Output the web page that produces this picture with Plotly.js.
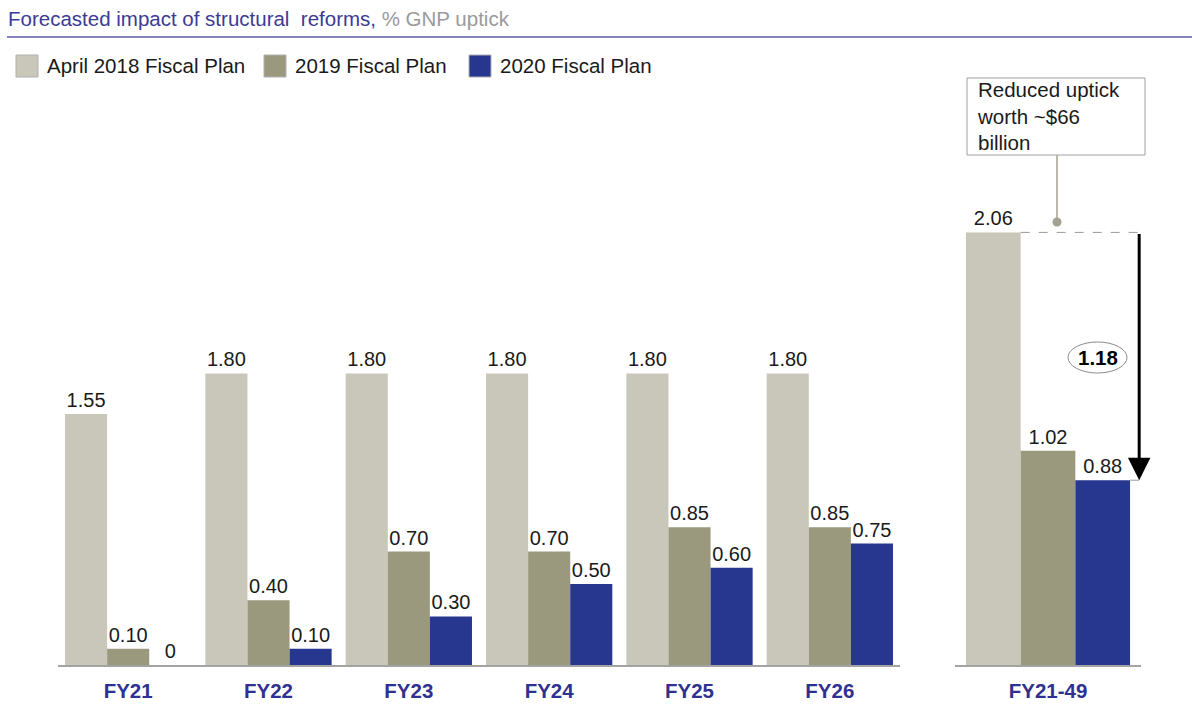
<!DOCTYPE html>
<html>
<head>
<meta charset="utf-8">
<script src="https://cdn.plot.ly/plotly-3.0.1.min.js"></script>
<style>html,body{margin:0;padding:0;background:#fff;}#chart{width:1192px;height:709px;}</style>
</head>
<body>
<div id="chart"></div>
<script>
// ---- data ----
const categories = ['FY21', 'FY22', 'FY23', 'FY24', 'FY25', 'FY26'];
const april2018 = [1.55, 1.80, 1.80, 1.80, 1.80, 1.80];
const plan2019 = [0.10, 0.40, 0.70, 0.70, 0.85, 0.85];
const plan2020 = [0, 0.10, 0.30, 0.50, 0.60, 0.75];
const totalCategory = ['FY21-49'];
const totalApril2018 = [2.06];
const totalPlan2019 = [1.02];
const totalPlan2020 = [0.88];
const seriesNames = ['April 2018 Fiscal Plan', '2019 Fiscal Plan', '2020 Fiscal Plan'];
const colors = ['#c8c7b9', '#9a997e', '#27378f'];

const W = 1192, H = 709;
const px = v => v / W;
const py = v => 1 - v / H;
const fmt = v => v === 0 ? '0' : v.toFixed(2);
const FONT = 'Liberation Sans, Arial, sans-serif';

function bar(xs, ys, i, xa, ya) {
  return {
    type: 'bar', x: xs, y: ys, name: seriesNames[i], xaxis: xa, yaxis: ya,
    marker: {color: colors[i], line: {width: 0}},
    text: ys.map(fmt), textposition: 'outside', constraintext: 'none',
    textfont: {family: FONT, size: 20, color: '#1a1a1a'},
    cliponaxis: false, showlegend: false, hoverinfo: 'skip'
  };
}

const data = [
  bar(categories, april2018, 0, 'x', 'y'),
  bar(categories, plan2019, 1, 'x', 'y'),
  bar(categories, plan2020, 2, 'x', 'y'),
  bar(totalCategory, totalApril2018, 0, 'x2', 'y2'),
  bar(totalCategory, totalPlan2019, 1, 'x2', 'y2'),
  bar(totalCategory, totalPlan2020, 2, 'x2', 'y2')
];

const yBottom = py(665), yTop = py(100);
const axisX = {
  type: 'category', showgrid: false, zeroline: false,
  showline: true, linecolor: '#a3a3a3', linewidth: 2,
  ticks: '', ticklabelstandoff: 6,
  tickfont: {family: FONT, size: 20.5, color: '#2e3192', weight: 'bold'}
};
const axisY = {showgrid: false, zeroline: false, showline: false, showticklabels: false, ticks: '', fixedrange: true};

const shapes = [];
const annotations = [];

// title + rule
annotations.push({
  xref: 'paper', yref: 'paper', x: px(6), y: py(19), xanchor: 'left', yanchor: 'middle', showarrow: false,
  text: '<span style="color:#3b3b96">Forecasted impact of structural  reforms,</span><span style="color:#9a9a9a"> % GNP uptick</span>',
  font: {family: FONT, size: 20.5}
});
shapes.push({type: 'line', xref: 'paper', yref: 'paper', x0: px(7), x1: 1, y0: py(37), y1: py(37), line: {color: '#5a5aa8', width: 1.5}});

// legend (manual, large swatches)
const legendSw = [16, 264, 469];
seriesNames.forEach((n, i) => {
  shapes.push({type: 'rect', xref: 'paper', yref: 'paper', x0: px(legendSw[i]), x1: px(legendSw[i] + 22), y0: py(77), y1: py(55),
    fillcolor: colors[i], line: {color: '#b0b0b0', width: 1}});
  annotations.push({xref: 'paper', yref: 'paper', x: px(legendSw[i] + 29), y: py(66), xanchor: 'left', yanchor: 'middle', showarrow: false,
    text: n, font: {family: FONT, size: 20.5, color: '#1a1a1a'}});
});

// callout box
shapes.push({type: 'rect', xref: 'paper', yref: 'paper', x0: px(967), x1: px(1145), y0: py(155), y1: py(78),
  fillcolor: '#ffffff', line: {color: '#a0a0a0', width: 1}});
annotations.push({xref: 'paper', yref: 'paper', x: px(975), y: py(116.5), xanchor: 'left', yanchor: 'middle', align: 'left', showarrow: false,
  text: 'Reduced uptick<br>worth ~$66<br>billion', font: {family: FONT, size: 20.5, color: '#1a1a1a'}});
shapes.push({type: 'line', xref: 'paper', yref: 'paper', x0: px(1057), x1: px(1057), y0: py(155), y1: py(222), line: {color: '#a3a290', width: 1.5}});
shapes.push({type: 'circle', xref: 'paper', yref: 'paper', x0: px(1052.5), x1: px(1061.5), y0: py(226.5), y1: py(217.5),
  fillcolor: '#a3a290', line: {color: '#a3a290', width: 0}});

// dashed reference lines in data coords of panel 2
shapes.push({type: 'line', xref: 'x2', yref: 'y2', x0: -0.15, x1: 0.57, y0: totalApril2018[0], y1: totalApril2018[0],
  line: {color: '#9a9a9a', width: 1, dash: 'dash'}});
shapes.push({type: 'line', xref: 'x2', yref: 'y2', x0: 0.45, x1: 0.57, y0: totalPlan2020[0], y1: totalPlan2020[0],
  line: {color: '#9a9a9a', width: 1, dash: 'dash'}});

// arrow
annotations.push({xref: 'x2', yref: 'y2', axref: 'x2', ayref: 'y2', x: 0.5, y: totalPlan2020[0], ax: 0.5, ay: totalApril2018[0],
  text: '', showarrow: true, arrowhead: 2, arrowsize: 1.5, arrowwidth: 3, arrowcolor: '#000', standoff: 0, startstandoff: 0});

// ellipse with difference
const diff = totalApril2018[0] - totalPlan2020[0];
shapes.push({type: 'circle', xref: 'paper', yref: 'paper', x0: px(1068), x1: px(1127), y0: py(373), y1: py(342),
  fillcolor: '#ffffff', line: {color: '#8a8a8a', width: 1}});
annotations.push({xref: 'paper', yref: 'paper', x: px(1097.5), y: py(357.5), xanchor: 'center', yanchor: 'middle', showarrow: false,
  text: '<b>' + diff.toFixed(2) + '</b>', font: {family: FONT, size: 20.5, color: '#000'}});

const layout = {
  width: W, height: H,
  margin: {l: 0, r: 0, t: 0, b: 0},
  paper_bgcolor: '#fff', plot_bgcolor: 'rgba(0,0,0,0)',
  barmode: 'group', bargap: 0.1, bargroupgap: 0,
  showlegend: false,
  xaxis: Object.assign({}, axisX, {domain: [px(58), px(900)], range: [-0.5, 5.5]}),
  xaxis2: Object.assign({}, axisX, {domain: [px(955), px(1141)], range: [-0.51, 0.51]}),
  yaxis: Object.assign({}, axisY, {domain: [yBottom, yTop], range: [0, 565 / 162]}),
  yaxis2: Object.assign({}, axisY, {domain: [yBottom, yTop], range: [0, 565 / 210], anchor: 'x2'}),
  shapes: shapes,
  annotations: annotations,
  font: {family: FONT}
};
layout.xaxis.anchor = 'y';
layout.xaxis2.anchor = 'y2';

Plotly.newPlot('chart', data, layout, {displayModeBar: false, staticPlot: true});
</script>
</body>
</html>
